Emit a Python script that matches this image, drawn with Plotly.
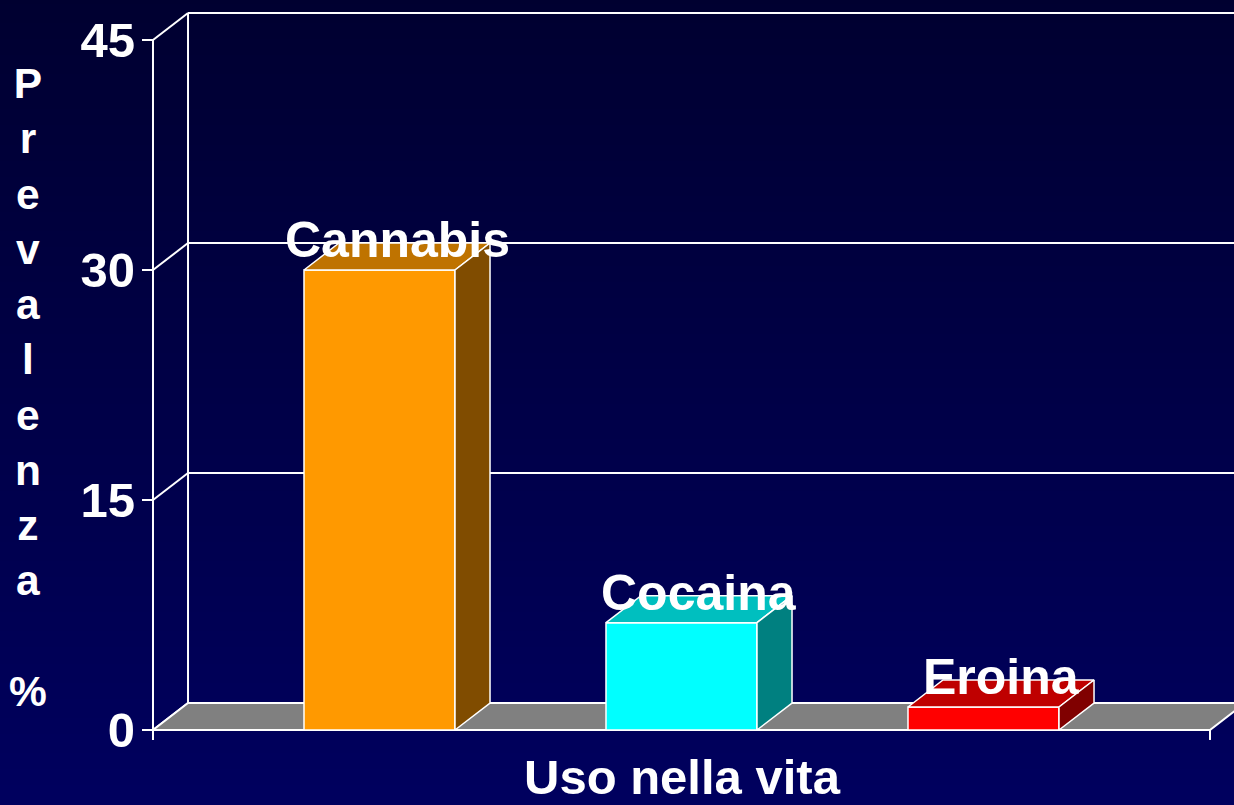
import base64
import struct
import zlib

import plotly.graph_objects as go

# ---------------- data ----------------
categories = ["Cannabis", "Cocaina", "Eroina"]
values = [30, 7, 1.5]
front_colors = ["#FF9900", "#00FFFF", "#FF0000"]
top_colors = ["#BF7300", "#00BFBF", "#BF0000"]
side_colors = ["#804C00", "#008080", "#800000"]
y_ticks = [0, 15, 30, 45]
x_title = "Uso nella vita"
y_title_letters = ["P", "r", "e", "v", "a", "l", "e", "n", "z", "a", " ", "%"]

# ---------------- geometry (3D look) ----------------
BAR_W = 0.5
DX = 0.116      # depth offset in x units
DY = 1.76       # depth offset in y units
X0, X1 = -0.75, 2.75
W, H = 1234, 805
ML, MB = 142, 63
PLOT_W, PLOT_H = W - ML, H - MB
X_RANGE = [-0.7864, -0.7864 + PLOT_W / 302.0]
Y_RANGE = [-0.783, 47.61]
WHITE = "#FFFFFF"
FONT = "Liberation Sans, Arial, sans-serif"


def gradient_png(top, bottom, h=256):
    rows = b""
    for i in range(h):
        t = i / (h - 1)
        rgb = [round(top[k] + (bottom[k] - top[k]) * t) for k in range(3)]
        rows += b"\x00" + bytes(rgb)

    def chunk(tag, data):
        return (struct.pack(">I", len(data)) + tag + data
                + struct.pack(">I", zlib.crc32(tag + data) & 0xFFFFFFFF))

    png = (b"\x89PNG\r\n\x1a\n"
           + chunk(b"IHDR", struct.pack(">IIBBBBB", 1, h, 8, 2, 0, 0, 0))
           + chunk(b"IDAT", zlib.compress(rows))
           + chunk(b"IEND", b""))
    return "data:image/png;base64," + base64.b64encode(png).decode()


def poly(xs, ys, fill, lw=1.5):
    return go.Scatter(x=xs + [xs[0]], y=ys + [ys[0]], mode="lines", fill="toself",
                      fillcolor=fill, line=dict(color=WHITE, width=lw),
                      hoverinfo="skip", showlegend=False)


def segs(pairs, lw=2):
    xs, ys = [], []
    for (xa, ya), (xb, yb) in pairs:
        xs += [xa, xb, None]
        ys += [ya, yb, None]
    return go.Scatter(x=xs, y=ys, mode="lines", line=dict(color=WHITE, width=lw),
                      hoverinfo="skip", showlegend=False)


fig = go.Figure()

# back wall gridlines + left wall
top_val = y_ticks[-1]
grid_pairs = [((X0 + DX, t + DY), (X1 + 1.0, t + DY)) for t in y_ticks[1:]]
grid_pairs.append(((X0 + DX, DY), (X0 + DX, top_val + DY)))
grid_pairs += [((X0, t), (X0 + DX, t + DY)) for t in y_ticks]
fig.add_trace(segs(grid_pairs))

# floor
fig.add_trace(poly([X0, X1, X1 + DX, X0 + DX], [0, 0, DY, DY], "#808080", lw=2))

# front axis line and bottom end tick
fig.add_trace(segs([((X0, -0.65), (X0, top_val)), ((X1, 0), (X1, -0.65))]))

# bars
for i, (cat, v) in enumerate(zip(categories, values)):
    xl, xr = i - BAR_W / 2, i + BAR_W / 2
    fig.add_trace(poly([xl, xr, xr, xl], [0, 0, v, v], front_colors[i]))
    fig.add_trace(poly([xl, xr, xr + DX, xl + DX], [v, v, v + DY, v + DY], top_colors[i]))
    fig.add_trace(poly([xr, xr + DX, xr + DX, xr], [0, DY, v + DY, v], side_colors[i]))
    fig.add_annotation(x=i + DX / 2, y=v + DY, text=cat, showarrow=False,
                       xanchor="center", yanchor="middle", yshift=3,
                       font=dict(family=FONT, size=50, color=WHITE, weight="bold"))

# axis titles
fig.add_annotation(xref="paper", yref="paper", x=(682.5 - ML) / PLOT_W,
                   y=(PLOT_H - 777) / PLOT_H, text=x_title, showarrow=False,
                   xanchor="center", yanchor="middle",
                   font=dict(family=FONT, size=49, color=WHITE, weight="bold"))
fig.add_annotation(xref="paper", yref="paper", x=(28 - ML) / PLOT_W,
                   y=1 - 58 / PLOT_H, text="<br>".join(y_title_letters), showarrow=False,
                   xanchor="center", yanchor="top", align="center",
                   font=dict(family=FONT, size=42.5, color=WHITE, weight="bold"))

fig.update_layout(
    width=W, height=H, autosize=False,
    margin=dict(l=ML, r=0, t=0, b=MB, pad=0),
    paper_bgcolor="#000045", plot_bgcolor="rgba(0,0,0,0)",
    showlegend=False,
    images=[dict(source=gradient_png((0, 0, 48), (0, 0, 95)), xref="paper", yref="paper",
                 x=-ML / PLOT_W - 0.01, y=1.01, sizex=W / PLOT_W + 0.02,
                 sizey=H / PLOT_H + 0.02, sizing="stretch", layer="below",
                 xanchor="left", yanchor="top")],
    xaxis=dict(range=X_RANGE, visible=False, fixedrange=True),
    yaxis=dict(range=Y_RANGE, tickvals=y_ticks, ticktext=[str(t) for t in y_ticks],
               ticks="inside", ticklen=11, tickwidth=2, tickcolor=WHITE,
               showgrid=False, zeroline=False, showline=False, ticklabelstandoff=6,
               tickfont=dict(family=FONT, size=49, color=WHITE, weight="bold"),
               fixedrange=True),
)

fig.write_html(
    "out.html",
    config={"displayModeBar": False},
    post_script="document.body.style.margin='0';document.body.style.overflow='hidden';"
                "document.body.style.background='#000045';",
)
